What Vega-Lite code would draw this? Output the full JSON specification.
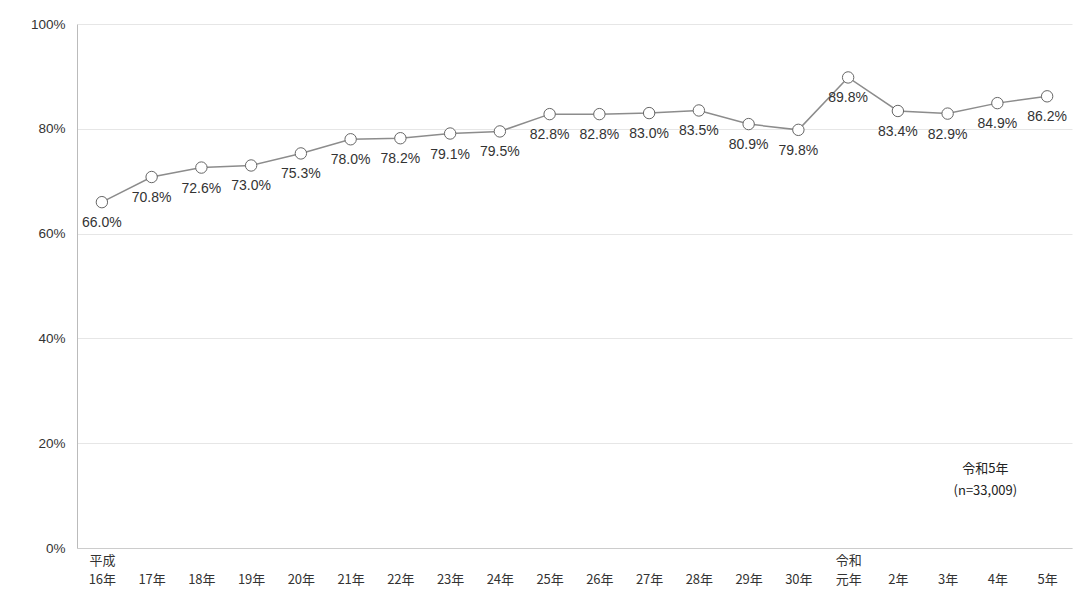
{
  "$schema": "https://vega.github.io/schema/vega-lite/v6.json",
  "autosize": "none",
  "width": 995,
  "height": 524,
  "padding": {"left": 77, "top": 24, "right": 6, "bottom": 47},
  "background": "white",
  "config": {
    "view": {"stroke": null},
    "font": "Liberation Sans",
    "text": {"font": "Liberation Sans"}
  },
  "data": {
    "values": [
      {"year": "平成16年", "rate": 66.0},
      {"year": "17年", "rate": 70.8},
      {"year": "18年", "rate": 72.6},
      {"year": "19年", "rate": 73.0},
      {"year": "20年", "rate": 75.3},
      {"year": "21年", "rate": 78.0},
      {"year": "22年", "rate": 78.2},
      {"year": "23年", "rate": 79.1},
      {"year": "24年", "rate": 79.5},
      {"year": "25年", "rate": 82.8},
      {"year": "26年", "rate": 82.8},
      {"year": "27年", "rate": 83.0},
      {"year": "28年", "rate": 83.5},
      {"year": "29年", "rate": 80.9},
      {"year": "30年", "rate": 79.8},
      {"year": "令和元年", "rate": 89.8},
      {"year": "2年", "rate": 83.4},
      {"year": "3年", "rate": 82.9},
      {"year": "4年", "rate": 84.9},
      {"year": "5年", "rate": 86.2}
    ]
  },
  "encoding": {
    "x": {
      "field": "year",
      "type": "ordinal",
      "sort": null,
      "scale": {"type": "point", "padding": 0.5},
      "axis": {
        "title": null,
        "labelAngle": 0,
        "ticks": false,
        "grid": false,
        "domainColor": "#cccccc",
        "labelFont": "Noto Sans CJK JP",
        "labelFontSize": 13,
        "labelColor": "#333333",
        "labelBaseline": "top",
        "labelPadding": 6,
        "labelLineHeight": 19,
        "labelExpr": "datum.value == '平成16年' ? ['平成', '16年'] : datum.value == '令和元年' ? ['令和', '元年'] : ['', datum.value]"
      }
    },
    "y": {
      "field": "rate",
      "type": "quantitative",
      "scale": {"domain": [0, 100], "nice": false},
      "axis": {
        "title": null,
        "values": [0, 20, 40, 60, 80, 100],
        "labelExpr": "datum.value + '%'",
        "ticks": false,
        "labelPadding": 12,
        "labelFontSize": 13.5,
        "labelColor": "#333333",
        "domainColor": "#bbbbbb",
        "gridColor": "#e6e6e6",
        "gridWidth": 1
      }
    }
  },
  "layer": [
    {
      "mark": {"type": "line", "color": "#8c8c8c", "strokeWidth": 1.5}
    },
    {
      "mark": {"type": "point", "filled": true, "fill": "white", "stroke": "#666666", "strokeWidth": 1, "size": 130, "opacity": 1}
    },
    {
      "transform": [{"calculate": "format(datum.rate, '.1f') + '%'", "as": "label"}],
      "mark": {"type": "text", "dy": 21, "baseline": "middle", "align": "center", "fontSize": 14, "color": "#333333"},
      "encoding": {
        "text": {"field": "label", "type": "nominal"},
        "fontWeight": {"condition": {"test": "datum.year == '5年'", "value": "bold"}, "value": "normal"}
      }
    },
    {
      "data": {"values": [{"year": "4年", "rate": 15.5, "note": "令和5年\n(n=33,009)"}]},
      "mark": {"type": "text", "lineBreak": "\n", "lineHeight": 22, "baseline": "middle", "align": "center", "dx": -12, "dy": 2, "fontSize": 13, "font": "Noto Sans CJK JP", "color": "#222222"},
      "encoding": {"text": {"field": "note"}}
    }
  ]
}
